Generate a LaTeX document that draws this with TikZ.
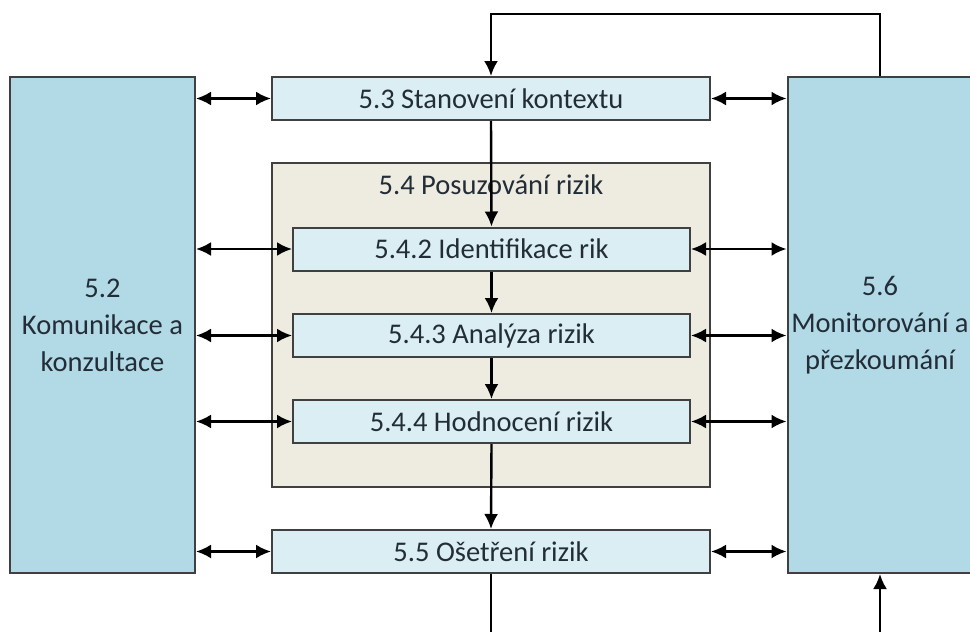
\documentclass[tikz,border=0pt]{standalone}
\usepackage{fontspec}
\setmainfont{Carlito}
\usetikzlibrary{positioning,arrows.meta}

\definecolor{bigblue}{RGB}{178,217,230}
\definecolor{paleblue}{RGB}{219,238,244}
\definecolor{beige}{RGB}{238,236,225}
\definecolor{edge}{RGB}{64,64,64}
\definecolor{txt}{RGB}{35,45,55}

\tikzset{
  bigbox/.style={draw=edge,line width=2pt,fill=bigblue,minimum width=185pt,minimum height=496pt,
    align=center,text=txt,font=\fontsize{28.5}{37}\selectfont,inner sep=0pt},
  stagebox/.style={draw=edge,line width=2pt,fill=paleblue,minimum width=438pt,minimum height=43pt,
    text=txt,font=\fontsize{28.5}{32}\selectfont,inner sep=0pt},
  innerbox/.style={stagebox,minimum width=397pt},
  groupbox/.style={draw=edge,line width=2pt,fill=beige,minimum width=438pt,minimum height=324pt},
  flow/.style={-{Latex[length=15pt,width=14pt]},line width=2.4pt,black},
  both/.style={{Latex[length=15pt,width=14pt]}-{Latex[length=15pt,width=14pt]},line width=2.4pt,black}
}

\begin{document}
\begin{tikzpicture}[x=1pt,y=-1pt]
  \useasboundingbox (0,0) rectangle (970,632);
  \clip (0,0) rectangle (970,632);
  \fill[white] (0,0) rectangle (970,632);

  % side boxes
  \node[bigbox] (kom) at (102.5,325) {5.2\\Komunikace a\\konzultace};
  \node[bigbox] (mon) at (880,325) {5.6\\Monitorování a\\přezkoumání};

  % process
  \node[stagebox] (kontext) at (491,98.5) {5.3 Stanovení kontextu};
  \node[groupbox] (posuz) at (491,325) {};
  \node[text=txt,font=\fontsize{28.5}{32}\selectfont] (posuztit) at (491,185) {5.4 Posuzování rizik};
  \foreach \yy/\lab/\txt in {249/ident/5.4.2 Identifikace rik,335.5/analyza/5.4.3 Analýza rizik,421.5/hodnoc/5.4.4 Hodnocení rizik} {
    \node[innerbox] (\lab) at (491.5,\yy) {\txt};
  }
  \node[stagebox] (osetr) at (491,551.5) {5.5 Ošetření rizik};

  % main flow
  \draw[flow] (kontext.south) -- (ident.north);
  \draw[flow] (ident) -- (analyza);
  \draw[flow] (analyza) -- (hodnoc);
  \draw[flow] (hodnoc.south) -- (osetr.north);

  % feedback loop
  \draw[flow] (mon.north) -- ++(0,-62) -| (kontext.north);
  \coordinate (botL) at (osetr.south |- 0,640);
  \coordinate (botR) at (mon.south |- 0,640);
  \draw[line width=2.4pt] (osetr.south) -- (botL);
  \draw[flow] (botR) -- (mon.south);

  % communication links
  \foreach \lab in {kontext,ident,analyza,hodnoc,osetr} {
    \draw[both] (kom.east |- \lab.west) -- (\lab.west);
    \draw[both] (\lab.east) -- (mon.west |- \lab.east);
  }
\end{tikzpicture}
\end{document}
